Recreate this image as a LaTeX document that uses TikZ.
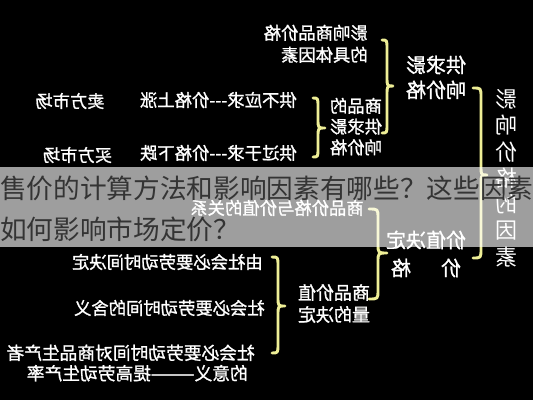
\documentclass[tikz,border=0pt]{standalone}
\usepackage{fontspec}
\usepackage{graphicx}
\newfontfamily\cjk{Noto Sans CJK SC}
\newfontfamily\cjkb[FakeBold=1.2]{Noto Sans CJK SC}
\definecolor{brkyellow}{RGB}{238,238,150}
\definecolor{bannertext}{RGB}{52,52,52}
\newcommand\mir[1]{\reflectbox{#1}}
\newcommand\brkt[6]{\draw[brk] (#1,#4) .. controls ({#2},{#4}) .. ({#2},{#4+9}) -- ({#2},{#5-9}) .. controls ({#2},{#5}) .. ({#3},{#5}) .. controls ({#2},{#5}) .. ({#2},{#5+9}) -- ({#2},{#6-9}) .. controls ({#2},{#6}) .. ({#1},{#6});}
\begin{document}
\begin{tikzpicture}[x=0.75pt,y=-0.75pt,
  lbl/.style={text=white, inner sep=0pt, font=\cjkb\fontsize{13pt}{16.5pt}\selectfont},
  big/.style={text=white, inner sep=0pt, font=\cjkb\fontsize{15pt}{18.75pt}\selectfont},
  vert/.style={text=white, inner sep=0pt, font=\cjk\fontsize{16.5pt}{19.5pt}\selectfont},
  bantext/.style={text=bannertext, inner sep=0pt, anchor=west, font=\cjk\fontsize{20pt}{24pt}\selectfont},
  brk/.style={draw=brkyellow, line width=2.2pt, line cap=round, line join=round}]
\fill[black] (0,0) rectangle (533,400);
\useasboundingbox (0,0) rectangle (533,400);

% vertical title
\node[vert] (vt) at (506,181) {\mir{\begin{tabular}{@{}c@{}}影\\响\\价\\格\\的\\因\\素\end{tabular}}};

% upper branch
\node[big] (gqyx) at (436,80) {\mir{\begin{tabular}{@{}l@{}}供求影\\响价格\end{tabular}}};
\node[lbl, anchor=east] (jtys) at (368,46) {\mir{\begin{tabular}{@{}l@{}}影响商品价格\\的具体因素\end{tabular}}};
\node[lbl] (spgq) at (356,129) {\mir{\fontsize{13pt}{15.4pt}\selectfont\begin{tabular}{@{}l@{}}商品的\\供求影\\响价格\end{tabular}}};
\node[lbl, anchor=east] (gbyq) at (297,100) {\mir{供不应求---价格上涨}};
\node[lbl, anchor=east] (ggyq) at (297,153) {\mir{供过于求---价格下跌}};
\node[lbl] (mfsc1) at (70,101) {\mir{卖方市场}};
\node[lbl] (mfsc2) at (77.5,155) {\mir{买方市场}};

% lower branch
\node[big] (jzjd1) at (426,240) {\mir{价值决定}};
\node[big] (jzjd2) at (426,268) {\mir{价\hspace{1.5em}格}};
\node[lbl, anchor=east] (gx) at (364,208) {\mir{商品价格与价值的关系}};
\node[lbl] (jzl) at (334,306) {\mir{\fontsize{13.5pt}{16.5pt}\selectfont\begin{tabular}{@{}l@{}}商品价值\\量的决定\end{tabular}}};
\node[lbl, anchor=east] (l1) at (263,262) {\mir{由社会必要劳动时间决定}};
\node[lbl, anchor=east] (l2) at (265,308) {\mir{社会必要劳动时间的含义}};
\node[lbl, anchor=east] (l3) at (255,365) {\mir{\fontsize{13.3pt}{13.5pt}\selectfont\begin{tabular}{@{}l@{}}社会必要劳动时间对商品生产者\\\hspace{5.25pt}的意义———提高劳动生产率\end{tabular}}};

% brackets
\brkt{473}{481}{487}{88}{175}{258}
\brkt{382}{387}{393}{40}{86}{133}
\brkt{313}{318}{325}{98}{128}{157}
\brkt{369}{378}{387}{209}{253}{299}
\brkt{272}{278}{285}{257}{306}{353}

% banner
\fill[white, fill opacity=0.62] (0,167) rectangle (533,247);
\node[bantext] (b1) at (0,188) {售价的计算方法和影响因素有哪些？这些因素};
\node[bantext] (b2) at (0,229) {如何影响市场定价？};
\end{tikzpicture}
\end{document}
